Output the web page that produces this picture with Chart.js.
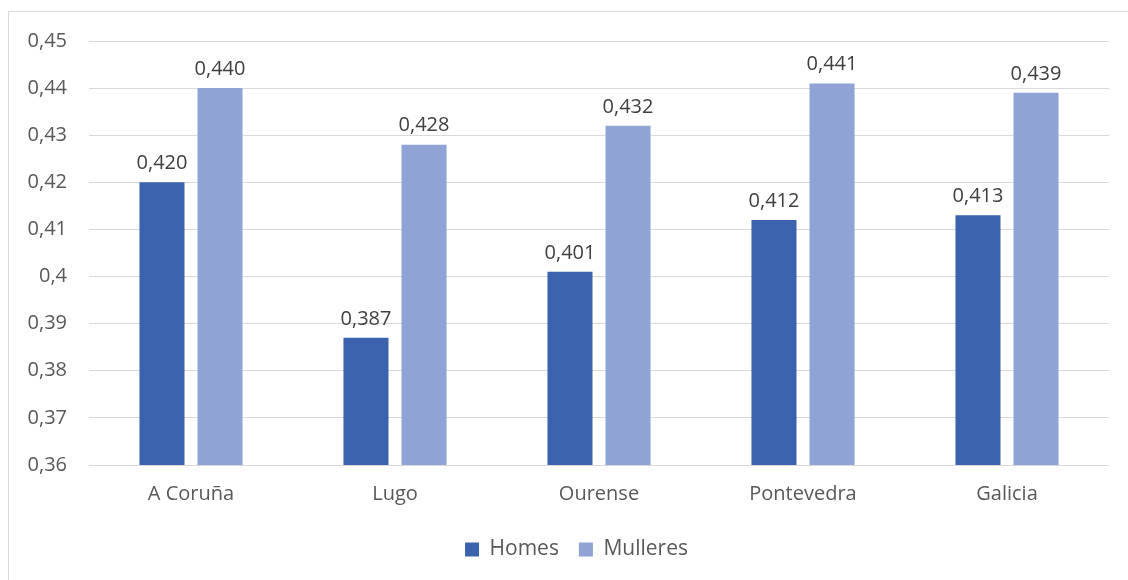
<!DOCTYPE html>
<html>
<head>
<meta charset="utf-8">
<script src="https://cdn.jsdelivr.net/npm/chart.js@4/dist/chart.umd.min.js"></script>
<style>
  html, body { margin: 0; padding: 0; background: #fff; overflow: hidden; }
  #frame { position: absolute; left: 8px; top: 11px; width: 1200px; height: 700px; border: 1px solid #D9D9D9; }
  #wrap { position: absolute; left: 0; top: 0; width: 1128px; height: 580px; }
</style>
</head>
<body>
<div id="frame"></div>
<div id="wrap"><canvas id="chart"></canvas></div>
<script>
// ===== Data =====
const provincias = ['A Coruña', 'Lugo', 'Ourense', 'Pontevedra', 'Galicia'];
const homes      = [0.420, 0.387, 0.401, 0.412, 0.413];
const mulleres   = [0.440, 0.428, 0.432, 0.441, 0.439];
const yMin = 0.36, yMax = 0.45, yStep = 0.01;

const FONT = "'Open Sans', 'Liberation Sans', sans-serif";
const TEXT = '#595959';

// comma decimal, like the spreadsheet
const fmtTick = v => String(Number(v.toFixed(2))).replace('.', ',');
const fmtVal  = v => v.toFixed(3).replace('.', ',');

// ===== Value labels above each bar =====
const valueLabels = {
  id: 'valueLabels',
  afterDatasetsDraw(chart) {
    const { ctx } = chart;
    ctx.save();
    ctx.font = `20px ${FONT}`;
    ctx.fillStyle = '#404040';
    ctx.textAlign = 'center';
    ctx.textBaseline = 'bottom';
    chart.data.datasets.forEach((ds, i) => {
      chart.getDatasetMeta(i).data.forEach((bar, j) => {
        ctx.fillText(fmtVal(ds.data[j]), bar.x, bar.y - 9);
      });
    });
    ctx.restore();
  }
};

// ===== Nudge the legend a bit to the right =====
const LEGEND_SHIFT = 22;
const legendNudge = {
  id: 'legendNudge',
  afterLayout(chart) {
    const lg = chart.legend;
    if (!lg) return;
    lg.left += LEGEND_SHIFT; lg.right += LEGEND_SHIFT;
  }
};

new Chart(document.getElementById('chart'), {
  type: 'bar',
  data: {
    labels: provincias,
    datasets: [
      { label: 'Homes',    data: homes,    backgroundColor: '#3A62AD', categoryPercentage: 0.569, barPercentage: 0.776 },
      { label: 'Mulleres', data: mulleres, backgroundColor: '#8FA4D5', categoryPercentage: 0.569, barPercentage: 0.776 }
    ]
  },
  options: {
    responsive: true, maintainAspectRatio: false, animation: false,
    layout: { padding: { left: 0, right: 19, top: 41, bottom: 10 } },
    plugins: {
      tooltip: { enabled: false },
      legend: {
        position: 'bottom',
        labels: { boxWidth: 14, boxHeight: 14, padding: 20, color: TEXT, font: { family: FONT, size: 21 } }
      }
    },
    scales: {
      x: {
        grid: { display: false },
        border: { display: false },
        ticks: { color: TEXT, font: { family: FONT, size: 20 }, padding: 9 },
        afterFit(scale) { scale.height = 54; }
      },
      y: {
        min: yMin, max: yMax,
        border: { display: false },
        grid: { color: '#D9D9D9', lineWidth: 1, drawTicks: false },
        ticks: { stepSize: yStep, color: TEXT, font: { family: FONT, size: 20 }, padding: 22, callback: v => fmtTick(v) },
        afterFit(scale) { scale.width = 89; }
      }
    }
  },
  plugins: [valueLabels, legendNudge]
});
</script>
</body>
</html>
